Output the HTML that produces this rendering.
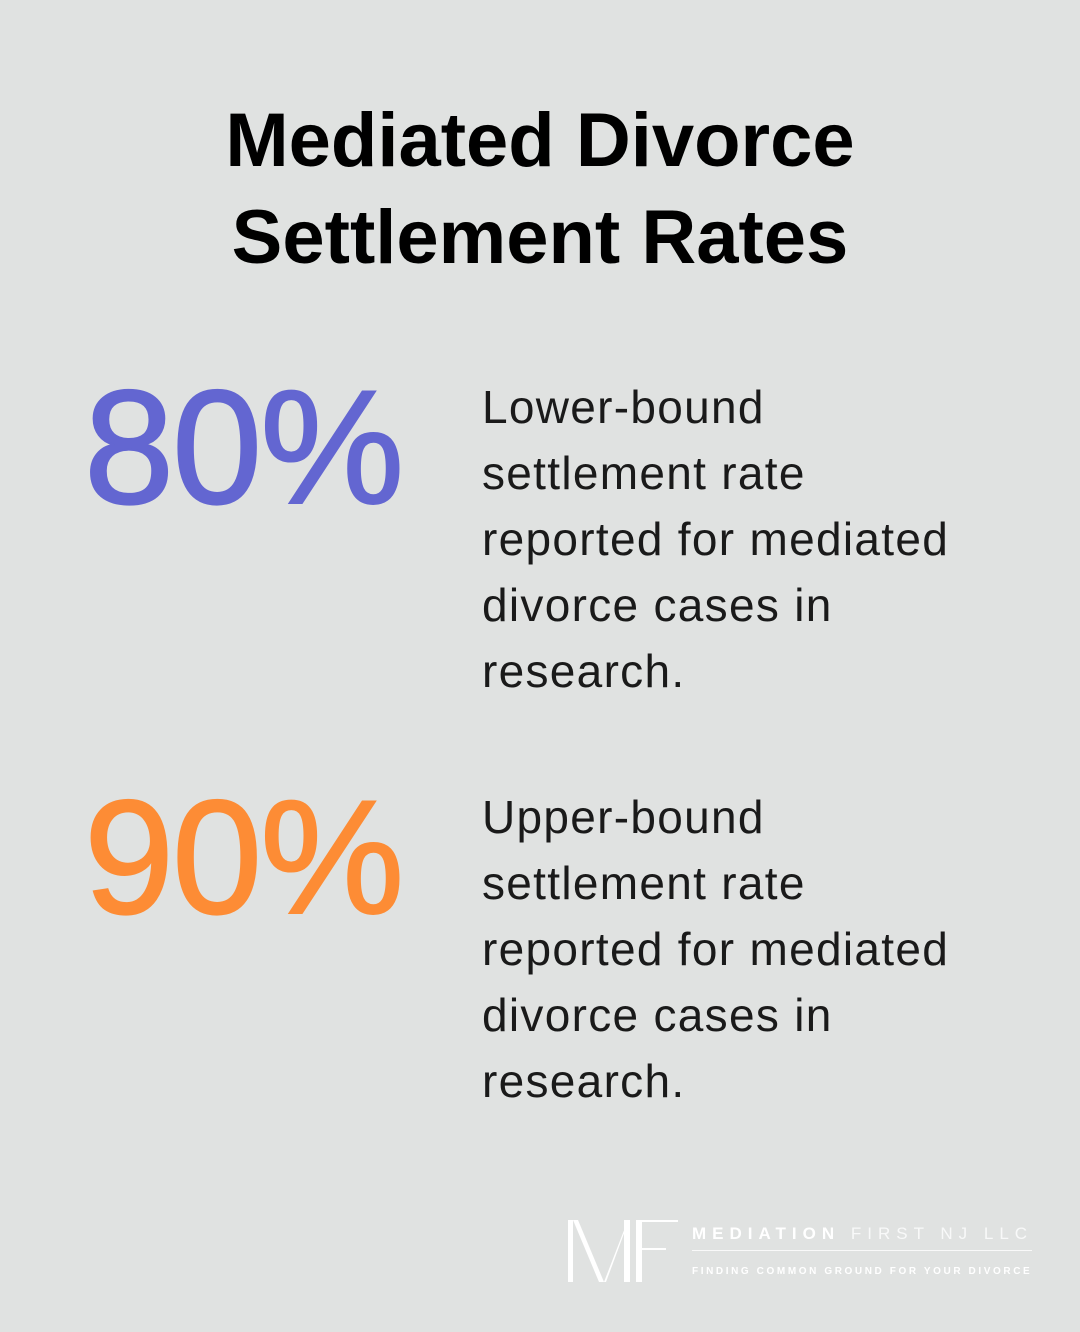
<!DOCTYPE html>
<html><head><meta charset="utf-8"><style>
body{margin:0;width:1080px;height:1332px;background:#e0e2e1;position:relative;overflow:hidden;font-family:"Liberation Sans",sans-serif}
.t{position:absolute;left:0;width:1080px;text-align:center;font-weight:bold;font-size:76px;color:#000;line-height:1}
.n{position:absolute;left:84px;font-size:162px;line-height:1;letter-spacing:-2px;-webkit-text-stroke:2px currentColor}
.d{position:absolute;left:482px;font-size:46px;letter-spacing:1.3px;color:#1a1a1a;line-height:66px;white-space:nowrap}
</style></head><body>
<div class="t" style="top:103px">Mediated Divorce</div>
<div class="t" style="top:200px">Settlement Rates</div>
<div class="n" style="top:367px;color:#6366d1">80%</div>
<div class="d" style="top:374px">Lower-bound<br>settlement rate<br>reported for mediated<br>divorce cases in<br>research.</div>
<div class="n" style="top:777px;color:#fd8c35">90%</div>
<div class="d" style="top:784px">Upper-bound<br>settlement rate<br>reported for mediated<br>divorce cases in<br>research.</div>
<div style="position:absolute;left:566px;top:1218px;width:470px;height:70px;color:#fff">
<svg width="115" height="66" style="position:absolute;left:0;top:0">
<g fill="#fff"><rect x="2" y="2" width="5" height="62"/><polygon points="7,2 12,2 38,64 33,64"/><polygon points="38,64 62,2 63,2 40,64"/><rect x="58" y="2" width="6" height="62"/><rect x="70" y="2" width="6" height="62"/><rect x="70" y="2" width="42" height="2"/><rect x="70" y="30" width="30" height="2"/></g></svg>
<div style="position:absolute;left:126px;top:6px;font-size:17px;letter-spacing:6px;white-space:nowrap"><b>MEDIATION</b> <span style="font-weight:normal;opacity:.8">FIRST NJ LLC</span></div>
<div style="position:absolute;left:126px;top:32px;width:340px;height:1px;background:#fff;opacity:.8"></div>
<div style="position:absolute;left:126px;top:48px;font-size:10px;font-weight:bold;letter-spacing:2.6px;white-space:nowrap">FINDING COMMON GROUND FOR YOUR DIVORCE</div>
</div>
</body></html>
